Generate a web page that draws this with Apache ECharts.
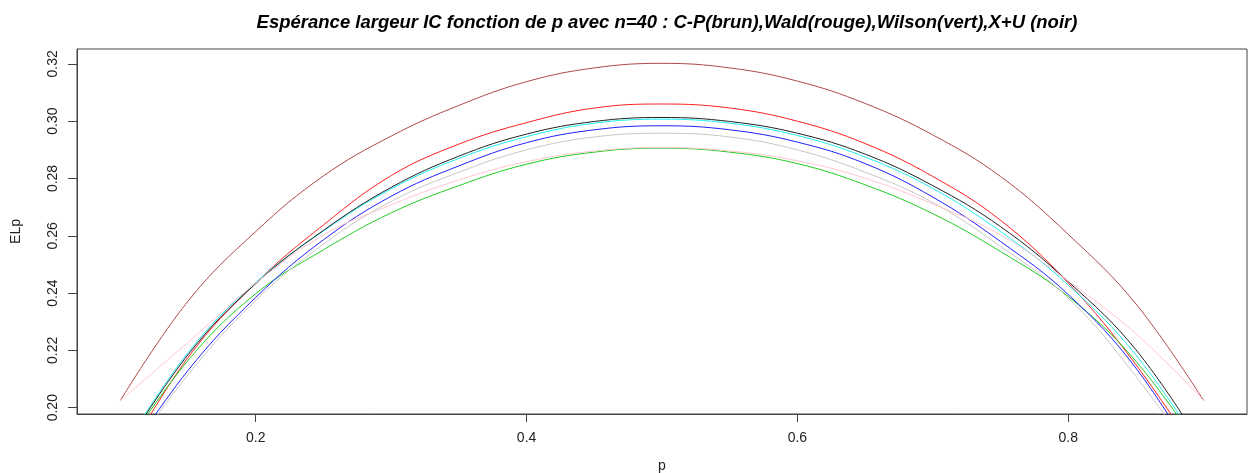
<!DOCTYPE html>
<html>
<head>
<meta charset="utf-8">
<script src="https://cdn.jsdelivr.net/npm/echarts@6/dist/echarts.min.js"></script>
<style>
html,body{margin:0;padding:0;background:#fff;}
#chart{width:1252px;height:473px;}
</style>
</head>
<body>
<div id="chart"></div>
<script>
var titleText = "Espérance largeur IC fonction de p avec n=40 : C-P(brun),Wald(rouge),Wilson(vert),X+U (noir)";
var pVals = [0.10,0.15,0.20,0.25,0.30,0.35,0.40,0.45,0.50,0.55,0.60,0.65,0.70,0.75,0.80,0.85,0.90];
var xTicks = [0.2,0.4,0.6,0.8];
var yTicks = [0.20,0.22,0.24,0.26,0.28,0.30,0.32];

var brown = [0.2025,0.2372,0.2615,0.2809,0.2948,0.3055,0.3138,0.3186,0.3202,0.3186,0.3140,0.3062,0.2952,0.2807,0.2605,0.2362,0.2025];
var red   = [0.1795,0.2175,0.2435,0.2638,0.2810,0.2920,0.2995,0.3046,0.3060,0.3046,0.3000,0.2922,0.2807,0.2654,0.2435,0.2150,0.1805];
var green = [0.1835,0.2165,0.2398,0.2551,0.2680,0.2775,0.2850,0.2892,0.2906,0.2892,0.2852,0.2778,0.2677,0.2545,0.2388,0.2162,0.1840];
var blue  = [0.1795,0.2130,0.2385,0.2586,0.2738,0.2844,0.2925,0.2970,0.2984,0.2970,0.2927,0.2852,0.2735,0.2580,0.2395,0.2138,0.1775];
var grey  = [0.1790,0.2115,0.2375,0.2571,0.2720,0.2822,0.2900,0.2945,0.2958,0.2945,0.2900,0.2822,0.2716,0.2563,0.2383,0.2109,0.1780];
var cyan  = [0.1840,0.2192,0.2437,0.2617,0.2764,0.2870,0.2946,0.2993,0.3007,0.2993,0.2950,0.2875,0.2765,0.2615,0.2428,0.2184,0.1845];
var black = [0.1835,0.2185,0.2433,0.2619,0.2769,0.2878,0.2955,0.2999,0.3013,0.2999,0.2958,0.2885,0.2775,0.2632,0.2440,0.2202,0.1860];
var pink  = [0.2025,0.2228,0.2435,0.2603,0.2708,0.2795,0.2859,0.2896,0.2908,0.2896,0.2862,0.2801,0.2711,0.2603,0.2442,0.2258,0.2025];

var seriesDefs = [
  {name:'brown', data:brown, color:'#B04A4A'},
  {name:'red',   data:red,   color:'#FF2020'},
  {name:'green', data:green, color:'#22CC22'},
  {name:'blue',  data:blue,  color:'#2020FF'},
  {name:'grey',  data:grey,  color:'#C8C8C8'},
  {name:'cyan',  data:cyan,  color:'#20F0F0'},
  {name:'black', data:black, color:'#222222'},
  {name:'pink',  data:pink,  color:'#FFC8D0'}
];

var chart = echarts.init(document.getElementById('chart'), null, {renderer:'canvas'});
var labelFont = {fontFamily:'Liberation Sans, Arial, sans-serif', fontSize:14, color:'#222'};
chart.setOption({
  animation:false,
  backgroundColor:'#fff',
  title:{
    text:titleText, left:662, top:8, textAlign:'center',
    textStyle:{fontFamily:'Liberation Sans, Arial, sans-serif', fontSize:18.5, fontWeight:'bold', fontStyle:'italic', color:'#000'}
  },
  grid:{left:77, right:5, top:49, bottom:59, outerBoundsMode:'none', containLabel:false, show:true, borderColor:'#444', borderWidth:1, backgroundColor:'transparent'},
  xAxis:{
    type:'value', min:0.068, max:0.932,
    name:'p', nameLocation:'middle', nameGap:45,
    nameTextStyle:labelFont,
    axisLine:{show:true, onZero:false, lineStyle:{color:'#444'}},
    axisTick:{show:true, length:8, customValues:xTicks, lineStyle:{color:'#444'}},
    axisLabel:Object.assign({customValues:xTicks, margin:17, formatter:function(v){return v.toFixed(1);}}, labelFont),
    splitLine:{show:false}
  },
  yAxis:{
    type:'value', min:0.1978, max:0.3252,
    name:'ELp', nameLocation:'middle', nameGap:54, nameRotate:90,
    nameTextStyle:labelFont,
    axisLine:{show:true, onZero:false, lineStyle:{color:'#444'}},
    axisTick:{show:true, length:9, customValues:yTicks, lineStyle:{color:'#444'}},
    axisLabel:Object.assign({customValues:yTicks, rotate:90, margin:17, formatter:function(v){return v.toFixed(2);}}, labelFont),
    splitLine:{show:false}
  },
  series: seriesDefs.map(function(s){
    return {
      type:'line', name:s.name, smooth:0.4, symbol:'none', clip:true,
      lineStyle:{color:s.color, width:1},
      data: pVals.map(function(p,i){return [p, s.data[i]];})
    };
  })
});
</script>
</body>
</html>
